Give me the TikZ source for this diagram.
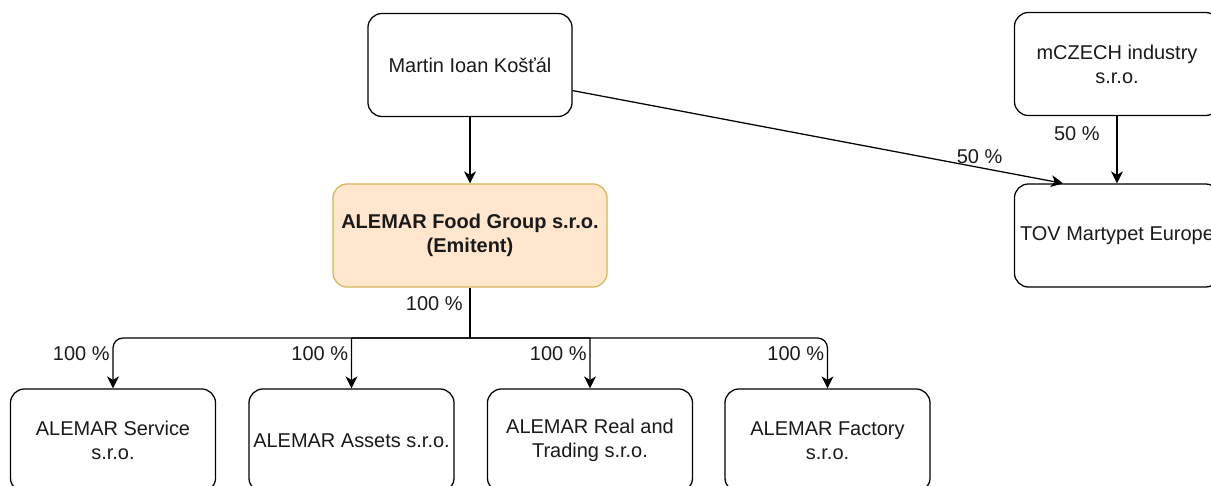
\documentclass[tikz,border=0pt]{standalone}
\usepackage{fontspec}
\setmainfont{Liberation Sans}
\usetikzlibrary{positioning,arrows.meta}
\definecolor{emitfill}{HTML}{FFE6CC}
\definecolor{emitline}{HTML}{D6B656}
\definecolor{inkgray}{HTML}{1A1A1A}

\begin{document}
\begin{tikzpicture}[x=0.025cm, y=-0.025cm,
  every node/.style={font=\fontsize{14.2}{17}\selectfont, text=inkgray},
  firm/.style={draw, line width=0.9pt, rounded corners=0.35cm, fill=white,
    align=center, minimum width=5.125cm, minimum height=2.575cm, inner sep=0pt},
  link/.style={line width=0.9pt, -{Stealth[length=8.5pt, width=8.5pt, inset=2.5pt]}},
  share/.style={inner sep=2pt}]
  \useasboundingbox (0,0) rectangle (1211,486);

  % owners
  \node[firm, minimum width=5.1cm] (martin) at (470,65) {Martin Ioan Košťál};
  \node[firm] (mczech) at (1117,64) {mCZECH industry\\s.r.o.};
  \node[firm, fill=emitfill, draw=emitline, minimum width=6.85cm, font=\fontsize{14.2}{17}\selectfont\bfseries]
    (emit) at (470,235.5) {ALEMAR Food Group s.r.o.\\(Emitent)};
  \node[firm] (tov) at (1117,235.5) {TOV Martypet Europe};

  % subsidiaries
  \foreach \name/\x/\txt in {service/113/{ALEMAR Service\\s.r.o.},
                             assets/351.5/{ALEMAR Assets s.r.o.},
                             real/590/{ALEMAR Real and\\Trading s.r.o.},
                             factory/827.5/{ALEMAR Factory\\s.r.o.}} {
    \node[firm] (\name) at (\x,440.5) {\txt};
  }

  \draw[link] (martin.south) -- (emit.north);
  \draw[link] (martin.-14) -- node[share, pos=0.83, above] {50 \%} (tov.136);
  \draw[link] (mczech.south) -- node[share, pos=0.26, left, xshift=-0.35cm] {50 \%} (tov.north);

  \coordinate (bus) at (470,338);
  \draw[line width=0.9pt] (emit.south) -- node[share, pos=0.31, left, xshift=-0.1cm] {100 \%} (bus);
  \foreach \name/\r in {service/0.25cm, assets/0.01pt, real/0.01pt, factory/0.25cm} {
    \draw[link, rounded corners=\r] (bus) -| node[share, pos=0.655, left] {100 \%} (\name.north);
  }
\end{tikzpicture}
\end{document}
